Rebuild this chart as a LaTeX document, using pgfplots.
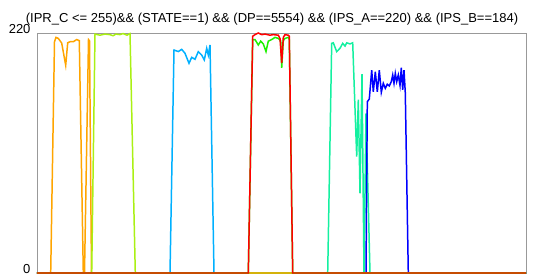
\documentclass[border=0pt]{standalone}
\usepackage{pgfplots}
\pgfplotsset{compat=1.18}
\usepackage{fontspec}
\setmainfont{Liberation Sans}
\definecolor{cOrange}{RGB}{255,165,0}
\definecolor{cChart}{RGB}{170,240,20}
\definecolor{cSky}{RGB}{0,176,255}
\definecolor{cLime}{RGB}{30,240,0}
\definecolor{cRed}{RGB}{255,0,0}
\definecolor{cSpring}{RGB}{20,240,160}
\definecolor{cBlue}{RGB}{0,0,255}
\definecolor{cGold}{RGB}{212,178,10}
\begin{document}
\begin{tikzpicture}
\begin{axis}[
  width=489bp, height=240bp, scale only axis,
  xmin=37, xmax=526, ymin=0, ymax=220,
  clip=false,
  xtick=\empty,
  ytick={0,220},
  major tick length=0pt,
  axis line style={draw=gray!80, line width=0.8pt},
  tick label style={font=\fontsize{13bp}{15bp}\selectfont},
  /pgf/number format/assume math mode=true,
  yticklabel style={anchor=base east, xshift=-3bp},
  every axis plot/.append style={line width=1.5pt, mark=none},
]
\addplot[cOrange] coordinates {(37,0) (50.7,0) (54.5,212) (56,216) (58.3,215) (61.7,210.8) (65.7,190.4) (67.7,211) (70,212) (73.3,212) (76.7,214) (79.3,213) (83.3,0) (84.5,0) (88.5,214) (89.5,213) (91.5,0) (526,0)};
\addplot[cChart] coordinates {(37,0) (91.7,0) (95,219) (100,218) (105,219) (110,218.5) (113,217.5) (116,219) (120,218.5) (123,219.5) (127,218) (130,219.5) (135.3,0) (526,0)};
\addplot[cSky] coordinates {(37,0) (170,0) (174,204.4) (178.3,203) (181.7,205) (185,201.4) (189,192.2) (191.7,197.7) (195,195.9) (198.3,202.9) (201.7,199.8) (204.3,195.3) (206.7,206) (208.3,199.8) (210,209) (214,0) (526,0)};
\addplot[cSpring] coordinates {(37,0) (327.7,0) (331.7,210.5) (333.3,211) (336.7,202.9) (340,206) (342.7,210.5) (345,208) (346.7,211) (350,210) (352.7,211) (356.7,106.6) (358.3,159) (360,73) (362,182.4) (364,0) (366,146.4) (370,0) (526,0)};
\addplot[cBlue] coordinates {(37,0) (366,0) (367.3,157) (369.3,159.5) (371.7,186) (373.3,166) (375.3,184.5) (377.3,166) (379.3,186) (381.3,165.6) (383.3,173.9) (385.3,169.3) (387.3,173) (389.3,171.5) (391.3,175.4) (392.7,181.5) (394,173.9) (395.3,183) (396.7,175.4) (398.3,181.5) (400,172) (401.3,188.2) (402.7,167.8) (404,186) (405.3,165) (408.3,0) (526,0)};
\addplot[cGold] coordinates {(37,0) (526,0)};
\addplot[cLime] coordinates {(37,0) (248.3,0) (252.7,214) (255,214) (258.3,209) (260.7,212.5) (263.3,210) (266,203) (268.3,212.5) (271.7,214) (275,216) (278.3,215) (280.7,213) (281.7,188) (283.3,213) (285,215) (288.3,216) (289.3,214) (292.7,0) (526,0)};
\addplot[cRed] coordinates {(37,0) (248.3,0) (252.7,217) (255,218.5) (258.3,220) (261.7,218.5) (265,219) (270,218) (273.3,218.5) (278.3,218) (280,215) (281.7,192.5) (283.3,216) (285,218.5) (288.3,218) (289.3,217) (292.7,0) (526,0)};
\node[anchor=base, font=\fontsize{13bp}{15bp}\selectfont] at ([yshift=11bp]rel axis cs:0.4806,1) {(IPR\_C <= 255)\&\& (STATE==1) \&\& (DP==5554) \&\& (IPS\_A==220) \&\& (IPS\_B==184)};
\end{axis}
\pgfresetboundingbox
\path[use as bounding box] (-37bp,-5bp) rectangle (512bp,273bp);
\end{tikzpicture}
\end{document}
